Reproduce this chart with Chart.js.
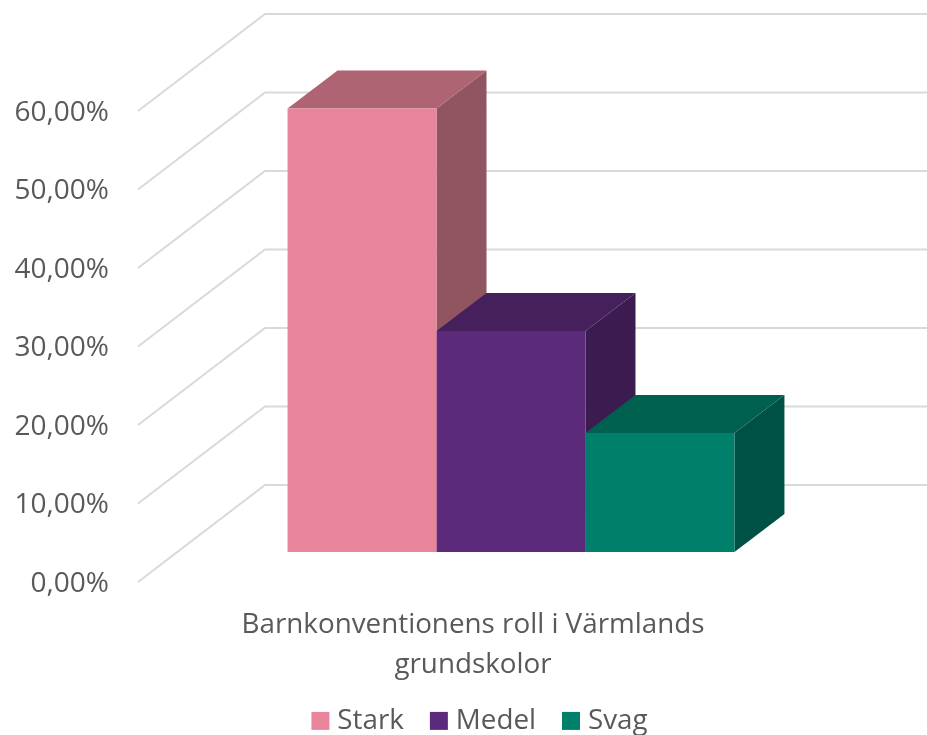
<!DOCTYPE html>
<html>
<head>
<meta charset="utf-8">
<script src="https://cdn.jsdelivr.net/npm/chart.js@4/dist/chart.umd.min.js"></script>
<style>
  html, body { margin: 0; padding: 0; background: #fff; }
  #wrap { width: 927px; height: 735px; }
</style>
</head>
<body>
<div id="wrap"><canvas id="c"></canvas></div>
<script>
const categories = [['Barnkonventionens roll i Värmlands', 'grundskolor']]
const seriesNames = ['Stark', 'Medel', 'Svag']
const stark = [56.5]
const medel = [28.15]
const svag = [15.15]
const frontColors = ['#E8859A', '#5C2A7A', '#00806B']
const topColors = ['#AE6473', '#45205C', '#006050']
const sideColors = ['#915461', '#3C1B50', '#005145']

const FONT = 'Open Sans'
const TEXT = '#595959'
const GRID = '#D9D9D9'

// bars stand partway into the box, walls go the whole depth
const wallDx = 127, wallDy = 97
const barShiftX = 38, barShiftY = 30
const barDx = 50, barDy = 38

function poly(ctx, pts, color) {
    ctx.fillStyle = color
    ctx.beginPath()
    pts.forEach((p, i) => i ? ctx.lineTo(p[0], p[1]) : ctx.moveTo(p[0], p[1]))
    ctx.closePath()
    ctx.fill()
}

const box3d = {
    id: 'box3d',
    afterLayout(chart) {
        // legend is centred on its own, not on the plot
        chart.legend.left = 38
        chart.legend.right = 927
        chart.legend.top = 675
        // second label line runs past the axis box, don't let it clip
        chart.scales.x.bottom = chart.height
    },
    beforeDatasetsDraw(chart) {
        const ctx = chart.ctx
        const y = chart.scales.y
        const left = chart.chartArea.left
        ctx.save()
        ctx.strokeStyle = GRID
        ctx.lineWidth = 2
        y.ticks.forEach(t => {
            const py = y.getPixelForValue(t.value)
            ctx.beginPath()
            ctx.moveTo(left, py)
            ctx.lineTo(left + wallDx, py - wallDy)
            ctx.lineTo(chart.width, py - wallDy)
            ctx.stroke()
        })
        ctx.translate(barShiftX, -barShiftY)
        chart.data.datasets.forEach((d, i) => {
            const b = chart.getDatasetMeta(i).data[0]
            const l = b.x - b.width / 2, r = b.x + b.width / 2
            poly(ctx, [[r, b.y], [r + barDx, b.y - barDy], [r + barDx, b.base - barDy], [r, b.base]], sideColors[i])
            poly(ctx, [[l, b.y], [l + barDx, b.y - barDy], [r + barDx, b.y - barDy], [r, b.y]], topColors[i])
        })
    },
    afterDatasetsDraw(chart) {
        chart.ctx.restore()
    }
}

new Chart(document.getElementById('c'), {
    type: 'bar',
    data: {
        labels: categories,
        datasets: [stark, medel, svag].map((v, i) => ({
            label: seriesNames[i],
            data: v,
            backgroundColor: frontColors[i],
            borderWidth: 0,
            clip: false
        }))
    },
    options: {
        responsive: true,
        maintainAspectRatio: false,
        animation: false,
        categoryPercentage: 0.667,
        barPercentage: 1,
        layout: { padding: { top: 111, right: 119, left: 0, bottom: 0 } },
        scales: {
            x: {
                grid: { display: false },
                border: { display: false },
                ticks: {
                    color: TEXT,
                    font: { family: FONT, size: 27.8, lineHeight: 1.43 },
                    padding: 15,
                    maxRotation: 0
                },
                afterFit(s) { s.height = 153 - s.chart.legend.height }
            },
            y: {
                min: 0,
                max: 60,
                grid: { display: false },
                border: { display: false },
                ticks: {
                    stepSize: 10,
                    color: TEXT,
                    font: { family: FONT, size: 28 },
                    padding: 21,
                    labelOffset: 2,
                    callback: v => v.toFixed(2).replace('.', ',') + '%'
                },
                afterFit(s) { s.width = 138 }
            }
        },
        plugins: {
            tooltip: { enabled: false },
            legend: {
                position: 'bottom',
                labels: {
                    color: TEXT,
                    font: { family: FONT, size: 27.8 },
                    usePointStyle: true,
                    pointStyle: 'rect',
                    boxWidth: 6,
                    boxHeight: 18,
                    padding: 32
                }
            }
        }
    },
    plugins: [box3d]
})
</script>
</body>
</html>
